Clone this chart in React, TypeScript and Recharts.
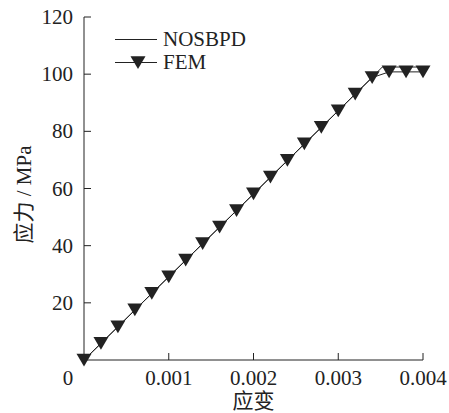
import { LineChart, Line, XAxis, YAxis, Legend } from "recharts";

document.body.style.margin = "0";

const FONT = "Liberation Serif, Noto Sans CJK SC, serif";
const INK = "#222";
const FS = 21;

// FEM markers
const femStrain = [
  0, 0.0002, 0.0004, 0.0006, 0.0008, 0.001, 0.0012, 0.0014, 0.0016, 0.0018,
  0.002, 0.0022, 0.0024, 0.0026, 0.0028, 0.003, 0.0032, 0.0034, 0.0036,
  0.0038, 0.004,
];
const femStress = [
  0, 5.8, 11.6, 17.5, 23.3, 29.1, 34.9, 40.7, 46.5, 52.3, 58.1, 64.0, 69.8,
  75.6, 81.4, 87.2, 93.0, 98.8, 100.8, 100.8, 100.8,
];

// NOSBPD curve
const pdStrain = [0, 0.001, 0.002, 0.003, 0.0034, 0.00352, 0.004];
const pdStress = [0, 29.1, 58.1, 87.2, 98.9, 102.5, 102.5];

const xTicks = [0, 0.001, 0.002, 0.003, 0.004];
const yTicks = [20, 40, 60, 80, 100, 120];
const legendOrder = ["NOSBPD", "FEM"];

const femData = femStrain.map((s, i) => ({ strain: s, stress: femStress[i] }));
const pdData = pdStrain.map((s, i) => ({ strain: s, stress: pdStress[i] }));

const Tri = ({ cx, cy, size = 7.5 }: any) => (
  <path
    d={`M${cx - size},${cy - size * 0.85}L${cx + size},${cy - size * 0.85}L${cx},${cy + size * 0.85}Z`}
    fill={INK}
  />
);

const XTick = ({ x, y, payload }: any) => {
  const v = payload.value;
  return (
    <g>
      {v !== 0 && <line x1={x} x2={x} y1={y} y2={y - 7} stroke={INK} />}
      <text
        x={v === 0 ? x - 16 : x}
        y={y + 25}
        textAnchor="middle"
        style={{ fontFamily: FONT, fontSize: FS }}
        fill={INK}
      >
        {String(v)}
      </text>
    </g>
  );
};

const YTick = ({ x, y, payload }: any) => (
  <g>
    <line x1={x} x2={x + 7} y1={y} y2={y} stroke={INK} />
    <text
      x={x - 11}
      y={y + 7}
      textAnchor="end"
      style={{ fontFamily: FONT, fontSize: FS }}
      fill={INK}
    >
      {payload.value}
    </text>
  </g>
);

const LegendBox = ({ payload }: any) => {
  const items = [...(payload || [])].sort(
    (a: any, b: any) => legendOrder.indexOf(a.value) - legendOrder.indexOf(b.value)
  );
  return (
    <div style={{ fontFamily: FONT, fontSize: FS, color: INK }}>
      {items.map((p: any) => (
        <div
          key={p.value}
          style={{ display: "flex", alignItems: "center", height: 23, lineHeight: "23px" }}
        >
          <svg width={44} height={23} style={{ marginRight: 5 }}>
            <line x1={1} x2={43} y1={11.5} y2={11.5} stroke={INK} />
            {p.value === "FEM" && <Tri cx={24} cy={11.5} />}
          </svg>
          <span>{p.value}</span>
        </div>
      ))}
    </div>
  );
};

export default function App() {
  return (
    <LineChart
      width={449}
      height={413}
      margin={{ top: 17, right: 26, bottom: 0, left: 0 }}
      style={{ background: "#fff" }}
    >
      <XAxis
        type="number"
        dataKey="strain"
        domain={[0, 0.004]}
        ticks={xTicks}
        height={53}
        tickSize={0}
        tickMargin={0}
        tick={<XTick />}
        stroke={INK}
        label={({ viewBox }: any) => (
          <text
            x={viewBox.x + viewBox.width / 2}
            y={viewBox.y + 48}
            textAnchor="middle"
            style={{ fontFamily: FONT, fontSize: FS }}
            fill={INK}
          >
            应变
          </text>
        )}
      />
      <YAxis
        type="number"
        domain={[0, 120]}
        ticks={yTicks}
        width={84}
        tickSize={0}
        tickMargin={0}
        tick={<YTick />}
        stroke={INK}
        label={({ viewBox }: any) => (
          <text
            transform={`translate(${viewBox.x + 24},${viewBox.y + viewBox.height / 2 + 6}) rotate(-90)`}
            textAnchor="middle"
            dominantBaseline="central"
            style={{ fontFamily: FONT, fontSize: FS }}
            fill={INK}
          >
            应力 / MPa
          </text>
        )}
      />
      <Legend
        layout="vertical"
        align="center"
        verticalAlign="middle"
        wrapperStyle={{ top: 28, left: 114, width: "auto" }}
        content={<LegendBox />}
      />
      <Line
        name="NOSBPD"
        data={pdData}
        dataKey="stress"
        type="linear"
        stroke={INK}
        strokeWidth={1}
        dot={false}
        activeDot={false}
        isAnimationActive={false}
      />
      <Line
        name="FEM"
        data={femData}
        dataKey="stress"
        type="linear"
        stroke={INK}
        strokeWidth={1}
        dot={(p: any) => <Tri key={p.index} cx={p.cx} cy={p.cy} />}
        activeDot={false}
        isAnimationActive={false}
      />
    </LineChart>
  );
}
